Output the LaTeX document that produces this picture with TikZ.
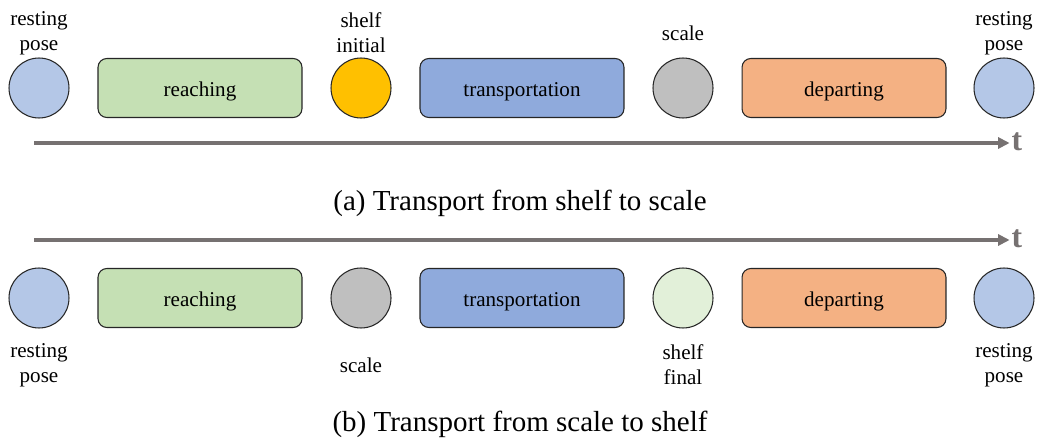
\documentclass[tikz,border=0pt]{standalone}
\usepackage{fontspec}
\setmainfont{Liberation Serif}
\usetikzlibrary{arrows.meta,positioning}

\definecolor{restblue}{HTML}{B4C7E7}
\definecolor{reachgreen}{HTML}{C5E0B4}
\definecolor{shelfgold}{HTML}{FFC000}
\definecolor{transblue}{HTML}{8FAADC}
\definecolor{scalegray}{HTML}{BFBFBF}
\definecolor{departorange}{HTML}{F4B183}
\definecolor{finalgreen}{HTML}{E2F0D9}
\definecolor{axisgray}{HTML}{767171}

\begin{document}
\begin{tikzpicture}[
  x=0.02cm, y=-0.02cm,
  state/.style={draw=black!85, circle, line width=0.6pt, minimum size=1.2cm, inner sep=0pt},
  phase/.style={draw=black!85, rounded corners=5pt, line width=0.6pt, minimum width=4.08cm, minimum height=1.18cm, text height=10pt, text depth=0pt, font=\fontsize{12}{14}\selectfont},
  tag/.style={align=center, font=\fontsize{12}{14.2}\selectfont},
  timeline/.style={-{Triangle[length=2.3mm,width=2.2mm]}, line width=2.3pt, draw=axisgray},
  tlabel/.style={inner sep=1pt, text=axisgray, font=\fontsize{18}{18}\selectfont\bfseries},
  caption/.style={font=\fontsize{16.5}{18}\selectfont}
]
\useasboundingbox (0,0) rectangle (1038,439);

% (a) shelf -> scale
\node[state, fill=restblue] (a1) at (39,88) {};
\node[phase, fill=reachgreen] (a2) at (200,88) {reaching};
\node[state, fill=shelfgold] (a3) at (361,88) {};
\node[phase, fill=transblue] (a4) at (522,88) {transportation};
\node[state, fill=scalegray] (a5) at (683,88) {};
\node[phase, fill=departorange] (a6) at (844,88) {departing};
\node[state, fill=restblue] (a7) at (1004,88) {};

\node[tag] (la1) at (39,33) {resting\\pose};
\node[tag] (la3) at (361,33) {shelf\\initial};
\node[tag] (la5) at (683,33) {scale};
\node[tag] (la7) at (1004,33) {resting\\pose};

\coordinate (ta0) at (34,143);
\node[tlabel] (ta) at (1017,142) {t};
\draw[timeline] (ta0) -- (ta.west |- ta0);

\node[caption] (capa) at (520,203) {(a) Transport from shelf to scale};

% (b) scale -> shelf
\coordinate (tb0) at (34,240);
\node[tlabel] (tb) at (1017,239) {t};
\draw[timeline] (tb0) -- (tb.west |- tb0);

\node[state, fill=restblue] (b1) at (39,298) {};
\node[phase, fill=reachgreen] (b2) at (200,298) {reaching};
\node[state, fill=scalegray] (b3) at (361,298) {};
\node[phase, fill=transblue] (b4) at (522,298) {transportation};
\node[state, fill=finalgreen] (b5) at (683,298) {};
\node[phase, fill=departorange] (b6) at (844,298) {departing};
\node[state, fill=restblue] (b7) at (1004,298) {};

\node[tag] (lb1) at (39,365) {resting\\pose};
\node[tag] (lb3) at (361,365) {scale};
\node[tag] (lb5) at (683,365) {shelf\\final};
\node[tag] (lb7) at (1004,365) {resting\\pose};

\node[caption] (capb) at (520,424) {(b) Transport from scale to shelf};

\end{tikzpicture}
\end{document}
